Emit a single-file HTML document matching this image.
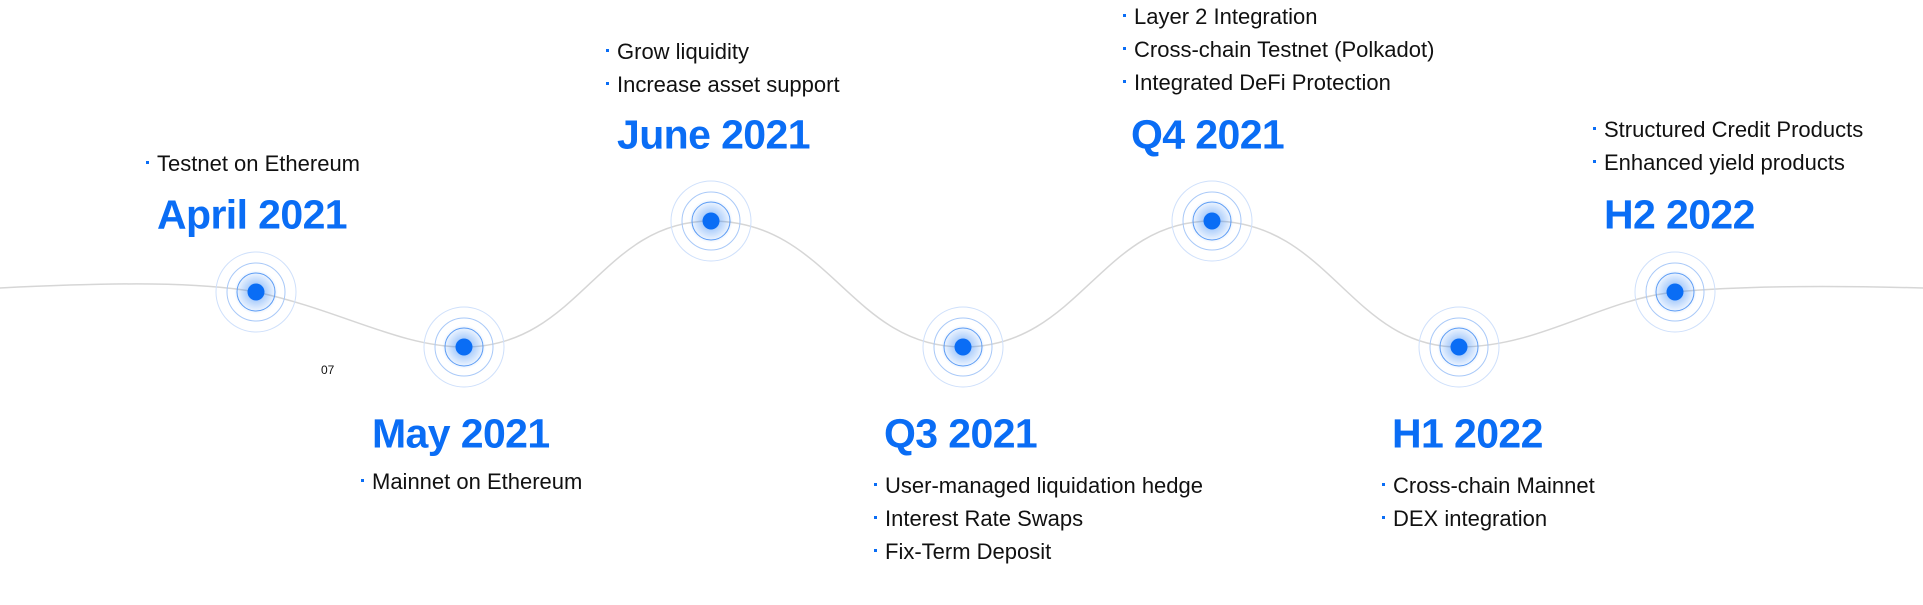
<!DOCTYPE html>
<html><head><meta charset="utf-8"><style>
body{margin:0;width:1923px;height:605px;background:#fff;position:relative;overflow:hidden;font-family:"Liberation Sans",sans-serif;}
.t{position:absolute;transform:translateY(-50%);white-space:nowrap;}
.h{font-size:41px;font-weight:bold;color:#0a6df5;letter-spacing:-0.6px;}
.b{font-size:22px;color:#111;}
.b:before{content:"";position:absolute;left:-11px;top:50%;width:3px;height:3px;background:#0a6df5;margin-top:-3px;}
</style></head><body>
<svg width="1923" height="605" style="position:absolute;left:0;top:0">
<defs><radialGradient id="g"><stop offset="0.35" stop-color="#0a6df5" stop-opacity="0.35"/><stop offset="1" stop-color="#0a6df5" stop-opacity="0"/></radialGradient></defs>
<path d="M0,288 C120,282 200,282 256,292 C340,310 400,347 464,347 C580,347 600,221 711,221 C830,221 850,347 963,347 C1080,347 1100,221 1212,221 C1330,221 1350,347 1459,347 C1540,347 1600,300 1675,292 C1750,285 1850,286 1923,288" fill="none" stroke="#d6d6d6" stroke-width="1.5"/>
<g fill="none">
<g transform="translate(256,292)"><circle r="40" stroke="#cfe0fb"/><circle r="29" stroke="#a9c9f8"/><circle r="22" fill="url(#g)"/><circle r="19" stroke="#5c9cf5"/><circle r="8.5" fill="#0a6df5"/></g>
<g transform="translate(464,347)"><circle r="40" stroke="#cfe0fb"/><circle r="29" stroke="#a9c9f8"/><circle r="22" fill="url(#g)"/><circle r="19" stroke="#5c9cf5"/><circle r="8.5" fill="#0a6df5"/></g>
<g transform="translate(711,221)"><circle r="40" stroke="#cfe0fb"/><circle r="29" stroke="#a9c9f8"/><circle r="22" fill="url(#g)"/><circle r="19" stroke="#5c9cf5"/><circle r="8.5" fill="#0a6df5"/></g>
<g transform="translate(963,347)"><circle r="40" stroke="#cfe0fb"/><circle r="29" stroke="#a9c9f8"/><circle r="22" fill="url(#g)"/><circle r="19" stroke="#5c9cf5"/><circle r="8.5" fill="#0a6df5"/></g>
<g transform="translate(1212,221)"><circle r="40" stroke="#cfe0fb"/><circle r="29" stroke="#a9c9f8"/><circle r="22" fill="url(#g)"/><circle r="19" stroke="#5c9cf5"/><circle r="8.5" fill="#0a6df5"/></g>
<g transform="translate(1459,347)"><circle r="40" stroke="#cfe0fb"/><circle r="29" stroke="#a9c9f8"/><circle r="22" fill="url(#g)"/><circle r="19" stroke="#5c9cf5"/><circle r="8.5" fill="#0a6df5"/></g>
<g transform="translate(1675,292)"><circle r="40" stroke="#cfe0fb"/><circle r="29" stroke="#a9c9f8"/><circle r="22" fill="url(#g)"/><circle r="19" stroke="#5c9cf5"/><circle r="8.5" fill="#0a6df5"/></g>
</g>
</svg>
<div class="t b" style="left:157px;top:164px">Testnet on Ethereum</div>
<div class="t h" style="left:157px;top:215px">April 2021</div>
<div class="t h" style="left:372px;top:434px">May 2021</div>
<div class="t b" style="left:372px;top:482px">Mainnet on Ethereum</div>
<div class="t b" style="left:617px;top:52px">Grow liquidity</div>
<div class="t b" style="left:617px;top:85px">Increase asset support</div>
<div class="t h" style="left:617px;top:135px">June 2021</div>
<div class="t h" style="left:884px;top:434px">Q3 2021</div>
<div class="t b" style="left:885px;top:486px">User-managed liquidation hedge</div>
<div class="t b" style="left:885px;top:519px">Interest Rate Swaps</div>
<div class="t b" style="left:885px;top:552px">Fix-Term Deposit</div>
<div class="t b" style="left:1134px;top:17px">Layer 2 Integration</div>
<div class="t b" style="left:1134px;top:50px">Cross-chain Testnet (Polkadot)</div>
<div class="t b" style="left:1134px;top:83px">Integrated DeFi Protection</div>
<div class="t h" style="left:1131px;top:135px">Q4 2021</div>
<div class="t h" style="left:1392px;top:434px">H1 2022</div>
<div class="t b" style="left:1393px;top:486px">Cross-chain Mainnet</div>
<div class="t b" style="left:1393px;top:519px">DEX integration</div>
<div class="t b" style="left:1604px;top:130px">Structured Credit Products</div>
<div class="t b" style="left:1604px;top:163px">Enhanced yield products</div>
<div class="t h" style="left:1604px;top:215px">H2 2022</div>
<div class="t" style="left:321px;top:370px;font-size:12px;color:#111">07</div>
</body></html>
